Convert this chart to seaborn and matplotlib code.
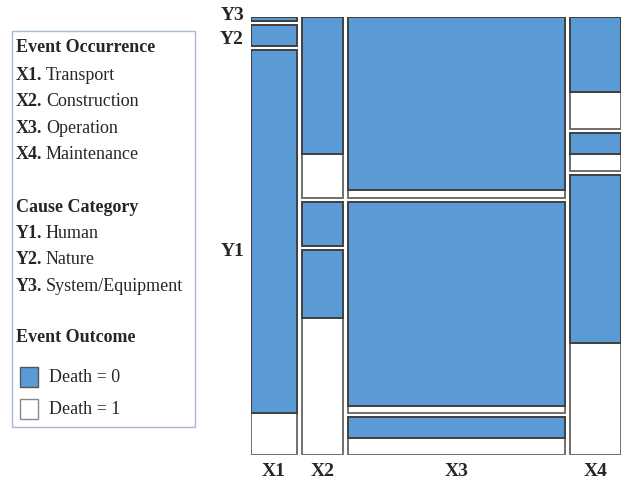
import matplotlib
matplotlib.use("Agg")
import matplotlib.pyplot as plt
from matplotlib.patches import Rectangle
import seaborn as sns

# mosaic data
occurrence = ["X1", "X2", "X3", "X4"]
occ_share = [0.130, 0.115, 0.611, 0.144]            # column widths
causes = ["Y1", "Y2", "Y3"]                         # stacked bottom -> top
cause_share = {                                     # share of each cause inside a column
    "X1": [0.942, 0.049, 0.009],
    "X2": [0.476, 0.104, 0.420],
    "X3": [0.089, 0.491, 0.420],
    "X4": [0.651, 0.088, 0.261],
}
death1_share = {                                    # share of Death = 1 inside a cell
    "X1": [0.103, 0.0, 0.0],
    "X2": [0.668, 0.0, 0.243],
    "X3": [0.447, 0.033, 0.044],
    "X4": [0.401, 0.447, 0.336],
}

legend_occ = ["Transport", "Construction", "Operation", "Maintenance"]
legend_cause = ["Human", "Nature", "System/Equipment"]

sns.set_style("white")
plt.rcParams["font.family"] = ["Liberation Serif", "DejaVu Serif"]

W, H = 627, 484
fig = plt.figure(figsize=(W / 100, H / 100), dpi=100)
blue = "#5B9BD5"
edge = "#404040"


def fx(x):
    return x / W


def fy(y):
    return 1 - y / H


ax = fig.add_axes([fx(251), fy(455), 370 / W, 438 / H])
ax.set_xlim(0, 1)
ax.set_ylim(0, 1)
ax.axis("off")

gx = 5 / 370
gy = 4 / 438
avail_x = 1 - gx * (len(occurrence) - 1)
avail_y = 1 - gy * (len(causes) - 1)

left = 0
centers = []
for i, occ in enumerate(occurrence):
    w = occ_share[i] * avail_x
    bottom = 0
    for j, c in enumerate(causes):
        h = cause_share[occ][j] * avail_y
        h1 = h * death1_share[occ][j]
        ax.bar(left, h1, width=w, bottom=bottom, align="edge",
               color="white", edgecolor="#707070", linewidth=1.4)
        ax.bar(left, h - h1, width=w, bottom=bottom + h1, align="edge",
               color=blue, edgecolor=edge, linewidth=1.4)
        bottom += h + gy
    centers.append(left + w / 2)
    left += w + gx

for occ, cx in zip(occurrence, centers):
    fig.text(fx(251) + cx * 370 / W, fy(472), occ, ha="center", va="center",
             fontsize=14, fontweight="bold")

for lab, yy in zip(["Y3", "Y2", "Y1"], [15, 40, 252]):
    fig.text(fx(244), fy(yy), lab, ha="right", va="center",
             fontsize=14, fontweight="bold")

# legend panel
fig.add_artist(Rectangle((fx(12), fy(427)), 183 / W, 396 / H,
                         transform=fig.transFigure, facecolor="white",
                         edgecolor="#A8BBD3", linewidth=1))

fs = 13


def line(y, bold, rest=""):
    fig.text(fx(16), fy(y), bold, ha="left", va="center",
             fontsize=fs, fontweight="bold")
    if rest:
        fig.text(fx(46), fy(y), rest, ha="left", va="center", fontsize=fs)


line(48, "Event Occurrence")
for k, name in enumerate(legend_occ):
    line(75 + k * 26.6, occurrence[k] + ".", name)
line(207, "Cause Category")
for k, name in enumerate(legend_cause):
    line(233 + k * 26.6, causes[k] + ".", name)
line(338, "Event Outcome")

for y, col, ec, lab in [(377, blue, "#555555", "Death = 0"),
                        (409, "white", "#888888", "Death = 1")]:
    fig.add_artist(Rectangle((fx(20), fy(y + 10)), 18 / W, 20 / H,
                             transform=fig.transFigure, facecolor=col,
                             edgecolor=ec, linewidth=1))
    fig.text(fx(49), fy(y), lab, ha="left", va="center", fontsize=fs)

fig.savefig("out.png", dpi=100)
